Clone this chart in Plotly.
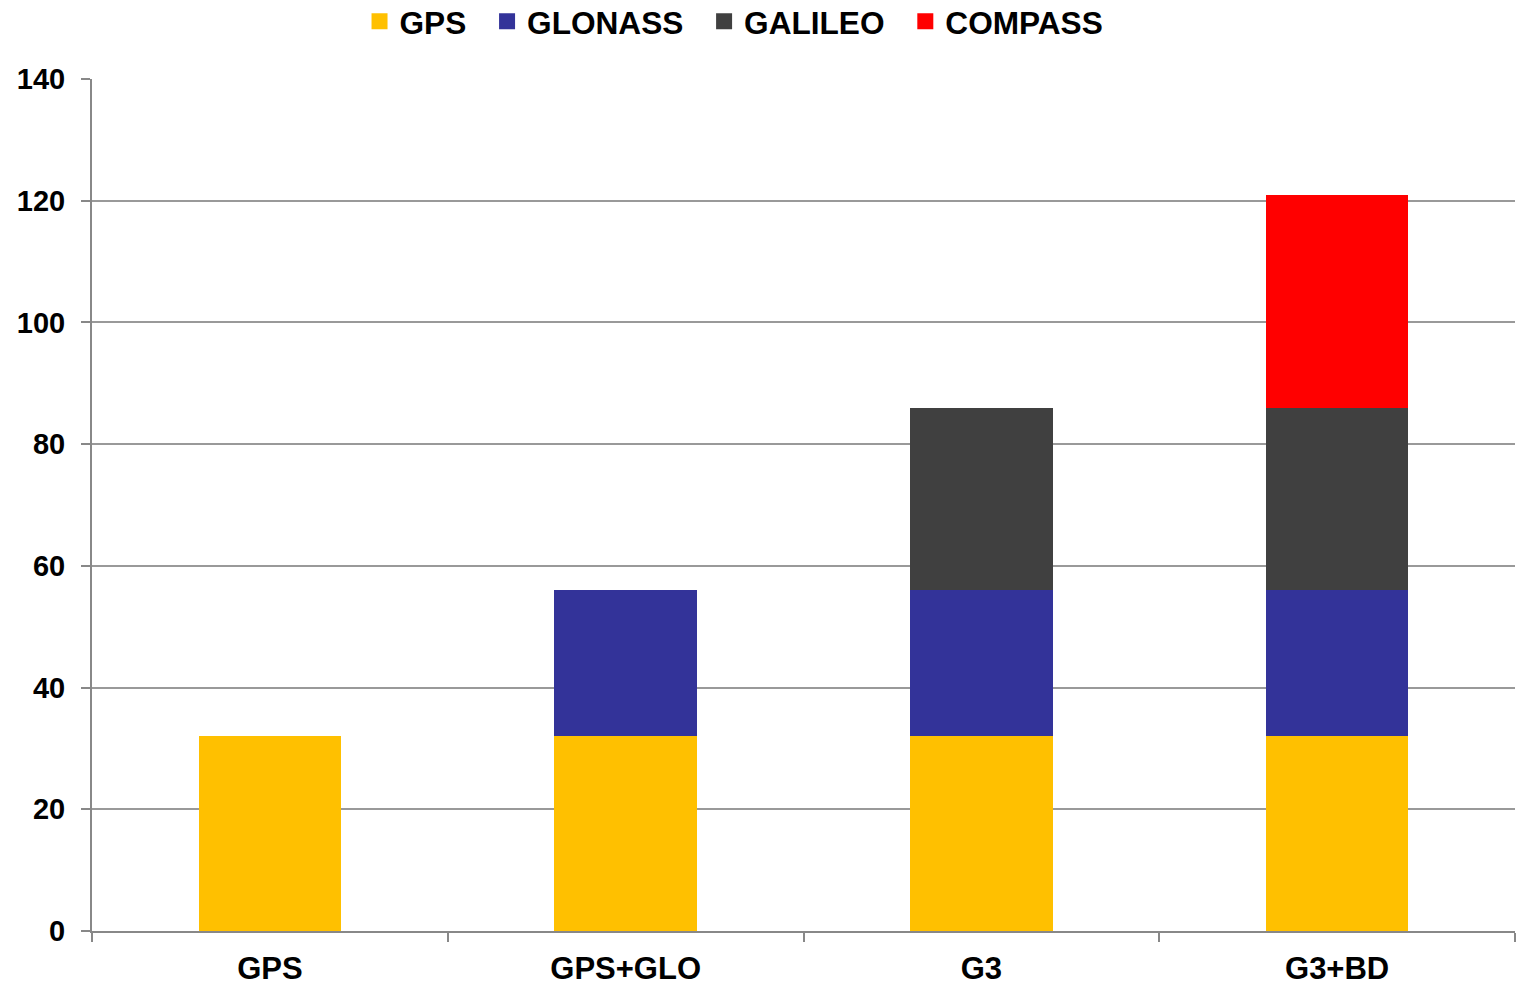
import plotly.graph_objects as go

categories = ["GPS", "GPS+GLO", "G3", "G3+BD"]
gps = [32, 32, 32, 32]
glonass = [None, 24, 24, 24]
galileo = [None, None, 30, 30]
compass = [None, None, None, 35]
y_ticks = [0, 20, 40, 60, 80, 100, 120, 140]

series = [
    ("GPS", gps, "#FFC000"),
    ("GLONASS", glonass, "#333399"),
    ("GALILEO", galileo, "#404040"),
    ("COMPASS", compass, "#FF0000"),
]

fig = go.Figure()
for name, vals, color in series:
    fig.add_trace(go.Bar(x=categories, y=vals, name=name, showlegend=False,
                         marker=dict(color=color, line=dict(width=0))))
# legend entries with larger square swatches
for name, vals, color in series:
    fig.add_trace(go.Scatter(x=[None], y=[None], mode="markers", name=name + "\u2002",
                             marker=dict(symbol="square", size=16, color=color, line=dict(width=0))))

font_family = "Liberation Sans, Arial, sans-serif"
fig.update_layout(
    barmode="stack",
    bargap=0.6,
    width=1517,
    height=985,
    margin=dict(l=92, r=2, t=79, b=54),
    plot_bgcolor="white",
    paper_bgcolor="white",
    font=dict(family=font_family, color="black"),
    legend=dict(
        orientation="h",
        xref="container",
        x=0.2370,
        xanchor="left",
        yref="container",
        y=0.978,
        yanchor="middle",
        traceorder="normal",
        font=dict(size=31.6, family=font_family, weight="bold"),
        itemwidth=30,
        itemsizing="trace",
    ),
    xaxis=dict(
        type="category",
        automargin=False,
        showline=True,
        linecolor="#888888",
        linewidth=2,
        ticks="outside",
        tickson="boundaries",
        ticklen=9,
        tickcolor="#888888",
        tickwidth=2,
        ticklabelstandoff=9,
        tickfont=dict(size=31, family=font_family, weight="bold"),
        showgrid=False,
    ),
    yaxis=dict(
        range=[0, 140],
        tickvals=y_ticks,
        automargin=False,
        showline=True,
        linecolor="#888888",
        linewidth=2,
        ticks="outside",
        ticklen=9,
        tickcolor="#888888",
        tickwidth=2,
        ticklabelstandoff=10,
        showgrid=True,
        gridcolor="#999999",
        gridwidth=2,
        zeroline=False,
        tickfont=dict(size=29, family=font_family, weight="bold"),
    ),
)

fig.write_html("out.html")
